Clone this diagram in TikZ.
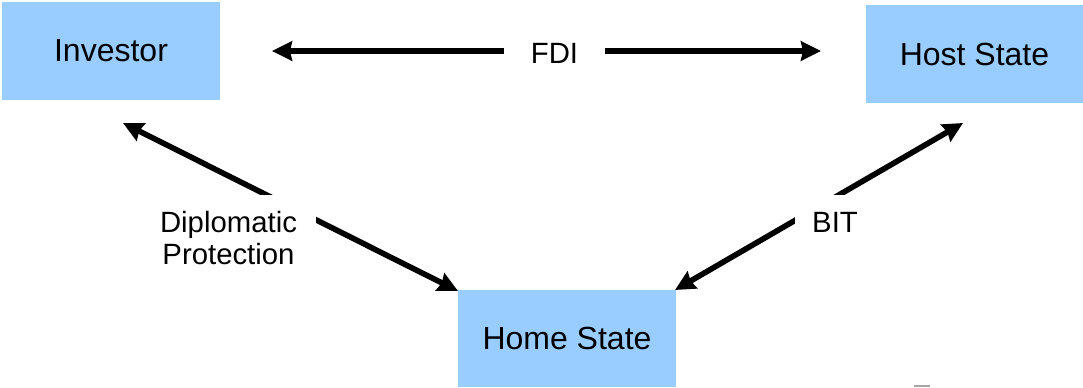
\documentclass[tikz,border=0pt]{standalone}
\usepackage{fontspec}
\setmainfont{Liberation Sans}
\usetikzlibrary{arrows.meta}
\definecolor{boxblue}{RGB}{153,204,255}
\begin{document}
\begin{tikzpicture}[x=0.75pt,y=-0.75pt,
  box/.style={fill=boxblue, draw=none, inner sep=0pt, font=\fontsize{24}{28}\selectfont},
  lab/.style={fill=white, font=\fontsize{22}{24}\selectfont, align=center},
  link/.style={line width=4.2pt, {Stealth[length=15pt,width=14.5pt,inset=1.5pt]}-{Stealth[length=15pt,width=14.5pt,inset=1.5pt]}}]
\useasboundingbox (0,0) rectangle (1083,387);
% boxes
\node[box, minimum width=163.5pt, minimum height=73.5pt] (inv) at (111,51) {Investor};
\node[box, minimum width=162.75pt, minimum height=73.5pt] (host) at (974.5,54) {Host State};
\node[box, minimum width=163.5pt, minimum height=72.75pt] (home) at (567,338.5) {Home State};
% connector ends
\coordinate (fL) at (272,51);
\coordinate (fR) at (821,51);
\coordinate (dT) at (123,123);
\coordinate (dB) at (458,291);
\coordinate (bT) at (963,123);
\coordinate (bB) at (675,290);
% connectors
\draw[link] (fL) -- (fR);
\draw[link] (dT) -- (dB);
\draw[link] (bT) -- (bB);
% labels
\node[lab, inner xsep=19.9pt, inner ysep=8pt] (fdi) at (554.5,53.5) {FDI};
\node[lab, inner xsep=14.25pt, inner ysep=12.75pt] (dip) at (228.5,238.5) {Diplomatic\\Protection};
\node[lab, inner xsep=12.75pt, inner ysep=12.4pt] (bit) at (835,222) {BIT};
% small mark
\coordinate (m1) at (914,386);
\coordinate (m2) at (930,386);
\draw[gray!70, line width=0.9pt] (m1) -- (m2);
\end{tikzpicture}
\end{document}
